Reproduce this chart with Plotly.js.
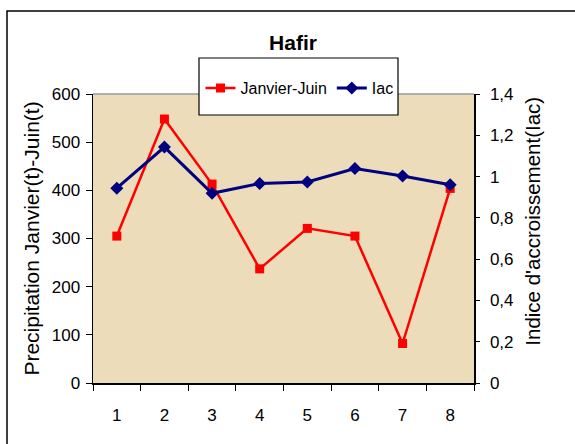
<!DOCTYPE html>
<html>
<head>
<meta charset="utf-8">
<script src="https://cdn.plot.ly/plotly-3.0.1.min.js"></script>
<style>
  html, body { margin: 0; padding: 0; background: #ffffff; }
  #chart { width: 575px; height: 444px; }
</style>
</head>
<body>
<div id="chart"></div>
<script>
// ---- data ----
var categories = ['1', '2', '3', '4', '5', '6', '7', '8'];
var precipJanJuin = [305, 548, 413, 237, 321, 305, 82, 404];
var iac = [0.944, 1.143, 0.919, 0.966, 0.974, 1.039, 1.003, 0.960];
var leftTicks = [0, 100, 200, 300, 400, 500, 600];
var rightTicks = [0, 0.2, 0.4, 0.6, 0.8, 1, 1.2, 1.4];

var chartTitle = 'Hafir';
var leftTitle = 'Precipitation Janvier(t)-Juin(t)';
var rightTitle = "Indice d'accroissement(Iac)";
var seriesNames = ['Janvier-Juin', 'Iac'];

var fam = '"Liberation Sans", Arial, sans-serif';

var traces = [
  {
    x: categories, y: precipJanJuin, name: seriesNames[0],
    type: 'scatter', mode: 'lines+markers',
    line: { color: '#FF0000', width: 2.5 },
    marker: { symbol: 'square', size: 9, color: '#FF0000' },
    yaxis: 'y'
  },
  {
    x: categories, y: iac, name: seriesNames[1],
    type: 'scatter', mode: 'lines+markers',
    line: { color: '#000080', width: 3 },
    marker: { symbol: 'diamond', size: 10, color: '#000080' },
    yaxis: 'y2'
  }
];

var layout = {
  width: 575, height: 444,
  margin: { l: 93, r: 101, t: 94, b: 61, pad: 0 },
  paper_bgcolor: '#ffffff',
  plot_bgcolor: '#ECDCB9',
  separators: ',.',
  showlegend: true,
  font: { family: fam, size: 17, color: '#000000' },
  title: {
    text: '<b>' + chartTitle + '</b>',
    font: { family: fam, size: 21, color: '#000000' },
    x: 0.525, xref: 'paper', xanchor: 'center',
    y: 1 - 43 / 444, yref: 'container', yanchor: 'middle'
  },
  xaxis: {
    type: 'category',
    categoryorder: 'array', categoryarray: categories,
    range: [-0.5, 7.5],
    showgrid: false, zeroline: false,
    showline: true, linecolor: '#000000', linewidth: 1.5,
    ticks: 'outside', ticklen: 6, tickwidth: 1, tickcolor: '#000000',
    tickson: 'boundaries',
    ticklabelstandoff: 16,
    tickfont: { family: fam, size: 17 }
  },
  yaxis: {
    range: [0, 600],
    tickmode: 'array', tickvals: leftTicks,
    showgrid: false, zeroline: false,
    showline: true, linecolor: '#000000', linewidth: 1.5,
    ticks: 'outside', ticklen: 6, tickwidth: 1, tickcolor: '#000000',
    ticklabelstandoff: 2,
    tickfont: { family: fam, size: 17 },
    title: { text: leftTitle, font: { family: fam, size: 21 }, standoff: 6 }
  },
  yaxis2: {
    overlaying: 'y', side: 'right',
    range: [0, 1.4],
    tickmode: 'array', tickvals: rightTicks,
    showgrid: false, zeroline: false,
    showline: true, linecolor: '#000000', linewidth: 1.5,
    ticks: 'outside', ticklen: 4, tickwidth: 1, tickcolor: '#000000',
    ticklabelstandoff: 7,
    tickfont: { family: fam, size: 17 }
  },
  legend: {
    orientation: 'h',
    x: 0.2782 + 0.004, xanchor: 'left',
    y: (383 - 88) / 289, yanchor: 'middle',
    bgcolor: 'rgba(0,0,0,0)', borderwidth: 0,
    font: { family: fam, size: 16, color: '#000000' },
    itemwidth: 30, tracegroupgap: 0
  },
  shapes: [
    // outer chart frame (right and bottom edges lie beyond the window)
    { type: 'rect', xref: 'paper', yref: 'paper',
      x0: (7 - 93) / 381, x1: 1.4, y0: -0.4, y1: (383 - 11) / 289,
      line: { color: '#000000', width: 1.5 }, fillcolor: 'rgba(0,0,0,0)', layer: 'below' },
    // grey top edge of plot area
    { type: 'line', xref: 'paper', yref: 'paper', x0: 0, x1: 1, y0: 1, y1: 1,
      line: { color: '#9a9a9a', width: 1.5 }, layer: 'above' },
    // legend box
    { type: 'rect', xref: 'paper', yref: 'paper',
      x0: (199 - 93) / 381, x1: (398 - 93) / 381,
      y0: (383 - 115) / 289, y1: (383 - 58) / 289,
      line: { color: '#000000', width: 1.2 }, fillcolor: '#ffffff', layer: 'above' }
  ],
  annotations: [
    { text: rightTitle, textangle: -90, showarrow: false,
      xref: 'paper', yref: 'paper',
      x: (531.7 - 93) / 381, y: (383 - 221) / 289,
      xanchor: 'center', yanchor: 'middle',
      font: { family: fam, size: 20.5, color: '#000000' } }
  ]
};

Plotly.newPlot('chart', traces, layout, { displayModeBar: false, staticPlot: true });
</script>
</body>
</html>
